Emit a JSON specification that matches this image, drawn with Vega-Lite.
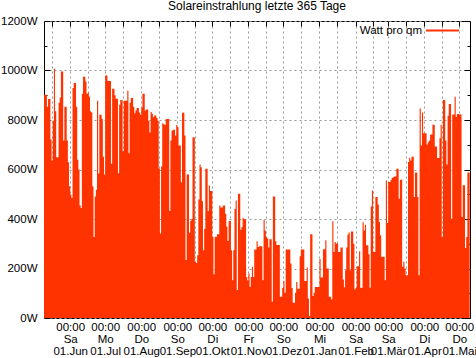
{
"$schema":"https://vega.github.io/schema/vega-lite/v6.json",
"width":426,"height":297,
"autosize":{"type":"none"},
"padding":{"left":44,"top":21,"right":6,"bottom":40},
"background":"white",
"title":{"text":"Solareinstrahlung letzte 365 Tage","fontSize":12,"font":"Liberation Sans","fontWeight":"normal","frame":"group","anchor":"middle","offset":0.5,"color":"#000"},
"data":{"values":[
{"t":"2013-05-09","w":902},{"t":"2013-05-10","w":902},{"t":"2013-05-11","w":902},{"t":"2013-05-12","w":854},{"t":"2013-05-13","w":885},{"t":"2013-05-14","w":885},{"t":"2013-05-15","w":721},{"t":"2013-05-16","w":636},{"t":"2013-05-17","w":797},{"t":"2013-05-18","w":1007},{"t":"2013-05-19","w":835},{"t":"2013-05-20","w":650},{"t":"2013-05-21","w":650},{"t":"2013-05-22","w":870},{"t":"2013-05-23","w":891},{"t":"2013-05-24","w":996},{"t":"2013-05-25","w":996},{"t":"2013-05-26","w":717},{"t":"2013-05-27","w":854},{"t":"2013-05-28","w":854},{"t":"2013-05-29","w":717},{"t":"2013-05-30","w":629},{"t":"2013-05-31","w":532},
{"t":"2013-06-01","w":499},{"t":"2013-06-02","w":485},{"t":"2013-06-03","w":929},{"t":"2013-06-04","w":950},{"t":"2013-06-05","w":950},{"t":"2013-06-06","w":854},{"t":"2013-06-07","w":639},{"t":"2013-06-08","w":600},{"t":"2013-06-09","w":455},{"t":"2013-06-10","w":444},{"t":"2013-06-11","w":905},{"t":"2013-06-12","w":975},{"t":"2013-06-13","w":975},{"t":"2013-06-14","w":956},{"t":"2013-06-15","w":906},{"t":"2013-06-16","w":910},{"t":"2013-06-17","w":894},{"t":"2013-06-18","w":835},{"t":"2013-06-19","w":830},{"t":"2013-06-20","w":532},{"t":"2013-06-21","w":327},{"t":"2013-06-22","w":491},{"t":"2013-06-23","w":518},{"t":"2013-06-24","w":878},{"t":"2013-06-25","w":584},{"t":"2013-06-26","w":821},{"t":"2013-06-27","w":821},{"t":"2013-06-28","w":804},{"t":"2013-06-29","w":652},{"t":"2013-06-30","w":580},
{"t":"2013-07-01","w":980},{"t":"2013-07-02","w":980},{"t":"2013-07-03","w":958},{"t":"2013-07-04","w":958},{"t":"2013-07-05","w":958},{"t":"2013-07-06","w":623},{"t":"2013-07-07","w":926},{"t":"2013-07-08","w":926},{"t":"2013-07-09","w":900},{"t":"2013-07-10","w":886},{"t":"2013-07-11","w":886},{"t":"2013-07-12","w":585},{"t":"2013-07-13","w":862},{"t":"2013-07-14","w":881},{"t":"2013-07-15","w":881},{"t":"2013-07-16","w":674},{"t":"2013-07-17","w":878},{"t":"2013-07-18","w":878},{"t":"2013-07-19","w":878},{"t":"2013-07-20","w":918},{"t":"2013-07-21","w":666},{"t":"2013-07-22","w":870},{"t":"2013-07-23","w":889},{"t":"2013-07-24","w":889},{"t":"2013-07-25","w":854},{"t":"2013-07-26","w":827},{"t":"2013-07-27","w":838},{"t":"2013-07-28","w":848},{"t":"2013-07-29","w":848},{"t":"2013-07-30","w":830},{"t":"2013-07-31","w":821},
{"t":"2013-08-01","w":851},{"t":"2013-08-02","w":906},{"t":"2013-08-03","w":906},{"t":"2013-08-04","w":838},{"t":"2013-08-05","w":842},{"t":"2013-08-06","w":842},{"t":"2013-08-07","w":797},{"t":"2013-08-08","w":750},{"t":"2013-08-09","w":832},{"t":"2013-08-10","w":825},{"t":"2013-08-11","w":811},{"t":"2013-08-12","w":818},{"t":"2013-08-13","w":818},{"t":"2013-08-14","w":808},{"t":"2013-08-15","w":797},{"t":"2013-08-16","w":603},{"t":"2013-08-17","w":341},{"t":"2013-08-18","w":612},{"t":"2013-08-19","w":787},{"t":"2013-08-20","w":783},{"t":"2013-08-21","w":780},{"t":"2013-08-22","w":804},{"t":"2013-08-23","w":804},{"t":"2013-08-24","w":804},{"t":"2013-08-25","w":432},{"t":"2013-08-26","w":717},{"t":"2013-08-27","w":757},{"t":"2013-08-28","w":761},{"t":"2013-08-29","w":761},{"t":"2013-08-30","w":737},{"t":"2013-08-31","w":780},
{"t":"2013-09-01","w":771},{"t":"2013-09-02","w":697},{"t":"2013-09-03","w":697},{"t":"2013-09-04","w":548},{"t":"2013-09-05","w":829},{"t":"2013-09-06","w":829},{"t":"2013-09-07","w":737},{"t":"2013-09-08","w":234},{"t":"2013-09-09","w":580},{"t":"2013-09-10","w":580},{"t":"2013-09-11","w":344},{"t":"2013-09-12","w":392},{"t":"2013-09-13","w":400},{"t":"2013-09-14","w":730},{"t":"2013-09-15","w":730},{"t":"2013-09-16","w":227},{"t":"2013-09-17","w":222},{"t":"2013-09-18","w":254},{"t":"2013-09-19","w":479},{"t":"2013-09-20","w":620},{"t":"2013-09-21","w":609},{"t":"2013-09-22","w":472},{"t":"2013-09-23","w":274},{"t":"2013-09-24","w":360},{"t":"2013-09-25","w":603},{"t":"2013-09-26","w":603},{"t":"2013-09-27","w":432},{"t":"2013-09-28","w":535},{"t":"2013-09-29","w":513},{"t":"2013-09-30","w":513},
{"t":"2013-10-01","w":328},{"t":"2013-10-02","w":177},{"t":"2013-10-03","w":328},{"t":"2013-10-04","w":328},{"t":"2013-10-05","w":338},{"t":"2013-10-06","w":338},{"t":"2013-10-07","w":455},{"t":"2013-10-08","w":446},{"t":"2013-10-09","w":446},{"t":"2013-10-10","w":455},{"t":"2013-10-11","w":455},{"t":"2013-10-12","w":421},{"t":"2013-10-13","w":370},{"t":"2013-10-14","w":311},{"t":"2013-10-15","w":392},{"t":"2013-10-16","w":392},{"t":"2013-10-17","w":274},{"t":"2013-10-18","w":153},{"t":"2013-10-19","w":274},{"t":"2013-10-20","w":440},{"t":"2013-10-21","w":475},{"t":"2013-10-22","w":113},{"t":"2013-10-23","w":502},{"t":"2013-10-24","w":502},{"t":"2013-10-25","w":357},{"t":"2013-10-26","w":368},{"t":"2013-10-27","w":405},{"t":"2013-10-28","w":400},{"t":"2013-10-29","w":398},{"t":"2013-10-30","w":166},{"t":"2013-10-31","w":153},
{"t":"2013-11-01","w":180},{"t":"2013-11-02","w":126},{"t":"2013-11-03","w":166},{"t":"2013-11-04","w":207},{"t":"2013-11-05","w":166},{"t":"2013-11-06","w":277},{"t":"2013-11-07","w":277},{"t":"2013-11-08","w":310},{"t":"2013-11-09","w":287},{"t":"2013-11-10","w":290},{"t":"2013-11-11","w":290},{"t":"2013-11-12","w":290},{"t":"2013-11-13","w":153},{"t":"2013-11-14","w":397},{"t":"2013-11-15","w":354},{"t":"2013-11-16","w":327},{"t":"2013-11-17","w":321},{"t":"2013-11-18","w":285},{"t":"2013-11-19","w":318},{"t":"2013-11-20","w":318},{"t":"2013-11-21","w":66},{"t":"2013-11-22","w":491},{"t":"2013-11-23","w":491},{"t":"2013-11-24","w":310},{"t":"2013-11-25","w":295},{"t":"2013-11-26","w":295},{"t":"2013-11-27","w":295},{"t":"2013-11-28","w":86},{"t":"2013-11-29","w":86},{"t":"2013-11-30","w":121},
{"t":"2013-12-01","w":150},{"t":"2013-12-02","w":102},{"t":"2013-12-03","w":277},{"t":"2013-12-04","w":277},{"t":"2013-12-05","w":277},{"t":"2013-12-06","w":277},{"t":"2013-12-07","w":220},{"t":"2013-12-08","w":121},{"t":"2013-12-09","w":62},{"t":"2013-12-10","w":62},{"t":"2013-12-11","w":102},{"t":"2013-12-12","w":145},{"t":"2013-12-13","w":118},{"t":"2013-12-14","w":118},{"t":"2013-12-15","w":250},{"t":"2013-12-16","w":277},{"t":"2013-12-17","w":277},{"t":"2013-12-18","w":277},{"t":"2013-12-19","w":150},{"t":"2013-12-20","w":150},{"t":"2013-12-21","w":204},{"t":"2013-12-22","w":79},{"t":"2013-12-23","w":8},{"t":"2013-12-24","w":338},{"t":"2013-12-25","w":338},{"t":"2013-12-26","w":89},{"t":"2013-12-27","w":102},{"t":"2013-12-28","w":125},{"t":"2013-12-29","w":125},{"t":"2013-12-30","w":125},{"t":"2013-12-31","w":125},
{"t":"2014-01-01","w":238},{"t":"2014-01-02","w":164},{"t":"2014-01-03","w":164},{"t":"2014-01-04","w":278},{"t":"2014-01-05","w":278},{"t":"2014-01-06","w":314},{"t":"2014-01-07","w":200},{"t":"2014-01-08","w":200},{"t":"2014-01-09","w":86},{"t":"2014-01-10","w":86},{"t":"2014-01-11","w":75},{"t":"2014-01-12","w":391},{"t":"2014-01-13","w":267},{"t":"2014-01-14","w":307},{"t":"2014-01-15","w":301},{"t":"2014-01-16","w":301},{"t":"2014-01-17","w":267},{"t":"2014-01-18","w":267},{"t":"2014-01-19","w":285},{"t":"2014-01-20","w":285},{"t":"2014-01-21","w":156},{"t":"2014-01-22","w":124},{"t":"2014-01-23","w":193},{"t":"2014-01-24","w":285},{"t":"2014-01-25","w":337},{"t":"2014-01-26","w":345},{"t":"2014-01-27","w":193},{"t":"2014-01-28","w":350},{"t":"2014-01-29","w":350},{"t":"2014-01-30","w":300},{"t":"2014-01-31","w":115},
{"t":"2014-02-01","w":121},{"t":"2014-02-02","w":209},{"t":"2014-02-03","w":209},{"t":"2014-02-04","w":270},{"t":"2014-02-05","w":122},{"t":"2014-02-06","w":122},{"t":"2014-02-07","w":387},{"t":"2014-02-08","w":354},{"t":"2014-02-09","w":377},{"t":"2014-02-10","w":294},{"t":"2014-02-11","w":294},{"t":"2014-02-12","w":258},{"t":"2014-02-13","w":122},{"t":"2014-02-14","w":451},{"t":"2014-02-15","w":515},{"t":"2014-02-16","w":267},{"t":"2014-02-17","w":267},{"t":"2014-02-18","w":489},{"t":"2014-02-19","w":489},{"t":"2014-02-20","w":459},{"t":"2014-02-21","w":388},{"t":"2014-02-22","w":334},{"t":"2014-02-23","w":247},{"t":"2014-02-24","w":247},{"t":"2014-02-25","w":247},{"t":"2014-02-26","w":153},{"t":"2014-02-27","w":556},{"t":"2014-02-28","w":384},
{"t":"2014-03-01","w":549},{"t":"2014-03-02","w":549},{"t":"2014-03-03","w":558},{"t":"2014-03-04","w":567},{"t":"2014-03-05","w":569},{"t":"2014-03-06","w":572},{"t":"2014-03-07","w":572},{"t":"2014-03-08","w":603},{"t":"2014-03-09","w":603},{"t":"2014-03-10","w":482},{"t":"2014-03-11","w":558},{"t":"2014-03-12","w":560},{"t":"2014-03-13","w":207},{"t":"2014-03-14","w":227},{"t":"2014-03-15","w":200},{"t":"2014-03-16","w":173},{"t":"2014-03-17","w":173},{"t":"2014-03-18","w":630},{"t":"2014-03-19","w":647},{"t":"2014-03-20","w":636},{"t":"2014-03-21","w":652},{"t":"2014-03-22","w":652},{"t":"2014-03-23","w":489},{"t":"2014-03-24","w":588},{"t":"2014-03-25","w":588},{"t":"2014-03-26","w":489},{"t":"2014-03-27","w":173},{"t":"2014-03-28","w":846},{"t":"2014-03-29","w":697},{"t":"2014-03-30","w":830},{"t":"2014-03-31","w":746},
{"t":"2014-04-01","w":746},{"t":"2014-04-02","w":746},{"t":"2014-04-03","w":701},{"t":"2014-04-04","w":710},{"t":"2014-04-05","w":717},{"t":"2014-04-06","w":741},{"t":"2014-04-07","w":741},{"t":"2014-04-08","w":781},{"t":"2014-04-09","w":781},{"t":"2014-04-10","w":693},{"t":"2014-04-11","w":693},{"t":"2014-04-12","w":646},{"t":"2014-04-13","w":646},{"t":"2014-04-14","w":726},{"t":"2014-04-15","w":781},{"t":"2014-04-16","w":327},{"t":"2014-04-17","w":881},{"t":"2014-04-18","w":881},{"t":"2014-04-19","w":717},{"t":"2014-04-20","w":620},{"t":"2014-04-21","w":817},{"t":"2014-04-22","w":865},{"t":"2014-04-23","w":865},{"t":"2014-04-24","w":401},{"t":"2014-04-25","w":822},{"t":"2014-04-26","w":822},{"t":"2014-04-27","w":894},{"t":"2014-04-28","w":813},{"t":"2014-04-29","w":824},{"t":"2014-04-30","w":824},
{"t":"2014-05-01","w":822},{"t":"2014-05-02","w":822},{"t":"2014-05-03","w":408},{"t":"2014-05-04","w":536},{"t":"2014-05-05","w":536},{"t":"2014-05-06","w":283},{"t":"2014-05-07","w":327},{"t":"2014-05-08","w":588},{"t":"2014-05-09","w":588},{"t":"2014-05-10","w":588}
]},
"layer":[
{"mark":{"type":"area","interpolate":"step-after","clip":true},
 "encoding":{
  "x":{"field":"t","type":"temporal",
   "scale":{"type":"utc","domain":[{"year":2013,"month":5,"date":9,"hours":12,"utc":true},{"year":2014,"month":5,"date":10,"hours":6,"utc":true}]},
   "axis":{"orient":"bottom","title":null,"domain":false,
    "values":[{"year":2013,"month":5,"date":16,"utc":true},{"year":2013,"month":6,"date":1,"utc":true},{"year":2013,"month":6,"date":16,"utc":true},{"year":2013,"month":7,"date":1,"utc":true},{"year":2013,"month":7,"date":16,"utc":true},{"year":2013,"month":8,"date":1,"utc":true},{"year":2013,"month":8,"date":16,"utc":true},{"year":2013,"month":9,"date":1,"utc":true},{"year":2013,"month":9,"date":16,"utc":true},{"year":2013,"month":10,"date":1,"utc":true},{"year":2013,"month":10,"date":16,"utc":true},{"year":2013,"month":11,"date":1,"utc":true},{"year":2013,"month":11,"date":16,"utc":true},{"year":2013,"month":12,"date":1,"utc":true},{"year":2013,"month":12,"date":16,"utc":true},{"year":2014,"month":1,"date":1,"utc":true},{"year":2014,"month":1,"date":16,"utc":true},{"year":2014,"month":2,"date":1,"utc":true},{"year":2014,"month":2,"date":16,"utc":true},{"year":2014,"month":3,"date":1,"utc":true},{"year":2014,"month":3,"date":16,"utc":true},{"year":2014,"month":4,"date":1,"utc":true},{"year":2014,"month":4,"date":16,"utc":true},{"year":2014,"month":5,"date":1,"utc":true}],
    "labelExpr":"utcdate(datum.value) == 1 ? ['00:00', ['So','Mo','Di','Mi','Do','Fr','Sa'][utcday(datum.value)], '01.' + ['Jan','Feb','Mär','Apr','Mai','Jun','Jul','Aug','Sep','Okt','Nov','Dez'][utcmonth(datum.value)]] : ''",
    "labelOverlap":false,"labelFlush":false,"labelBaseline":"top","labelLineHeight":12.3,"labelPadding":8,
    "tickSize":-5,"grid":true}},
  "y":{"field":"w","type":"quantitative","scale":{"domain":[0,1200],"nice":false},
   "axis":{"orient":"left","title":null,"domain":false,
    "values":[0,100,200,300,400,500,600,700,800,900,1000,1100,1200],
    "labelExpr":"datum.value % 200 == 0 ? datum.value + 'W' : ''",
    "labelOverlap":false,"labelFlush":false,"labelPadding":13,
    "tickSize":{"condition":{"test":"datum.value % 200 == 0","value":-6},"value":-3},
    "grid":true,
    "gridOpacity":{"condition":{"test":"datum.value % 200 == 0","value":1},"value":0}}},
  "color":{"datum":"Watt pro qm","type":"nominal","scale":{"range":["#ff3300"]},
   "legend":{"orient":"none","legendX":381,"legendY":-8,"title":null,"symbolType":"stroke","symbolSize":1089,"symbolStrokeWidth":2,"symbolStrokeColor":"#ff3300","labelAlign":"right","labelOffset":-38,"labelFontSize":11.5,"labelFont":"Liberation Sans","labelColor":"#000"}}
 }},
{"mark":{"type":"point","opacity":0},
 "encoding":{
  "x":{"field":"t","type":"temporal",
   "axis":{"orient":"top","title":null,"domain":false,"labels":false,"grid":false,"tickSize":-5,
    "values":[{"year":2013,"month":5,"date":16,"utc":true},{"year":2013,"month":6,"date":1,"utc":true},{"year":2013,"month":6,"date":16,"utc":true},{"year":2013,"month":7,"date":1,"utc":true},{"year":2013,"month":7,"date":16,"utc":true},{"year":2013,"month":8,"date":1,"utc":true},{"year":2013,"month":8,"date":16,"utc":true},{"year":2013,"month":9,"date":1,"utc":true},{"year":2013,"month":9,"date":16,"utc":true},{"year":2013,"month":10,"date":1,"utc":true},{"year":2013,"month":10,"date":16,"utc":true},{"year":2013,"month":11,"date":1,"utc":true},{"year":2013,"month":11,"date":16,"utc":true},{"year":2013,"month":12,"date":1,"utc":true},{"year":2013,"month":12,"date":16,"utc":true},{"year":2014,"month":1,"date":1,"utc":true},{"year":2014,"month":1,"date":16,"utc":true},{"year":2014,"month":2,"date":1,"utc":true},{"year":2014,"month":2,"date":16,"utc":true},{"year":2014,"month":3,"date":1,"utc":true},{"year":2014,"month":3,"date":16,"utc":true},{"year":2014,"month":4,"date":1,"utc":true},{"year":2014,"month":4,"date":16,"utc":true},{"year":2014,"month":5,"date":1,"utc":true}]}},
  "y":{"field":"w","type":"quantitative",
   "axis":{"orient":"right","title":null,"domain":false,"labels":false,"grid":false,
    "values":[0,100,200,300,400,500,600,700,800,900,1000,1100,1200],
    "tickSize":{"condition":{"test":"datum.value % 200 == 0","value":-6},"value":-3}}}
 }}
],
"resolve":{"axis":{"x":"independent","y":"independent"}},
"config":{
 "view":{"stroke":"#000","strokeWidth":1},
 "font":"Liberation Sans",
 "axis":{"labelFont":"Liberation Sans","labelFontSize":11.5,"labelColor":"#000","tickColor":"#000","tickWidth":1,"gridColor":"#999","gridDash":[2,3],"gridWidth":1,"zindex":0}
}
}
